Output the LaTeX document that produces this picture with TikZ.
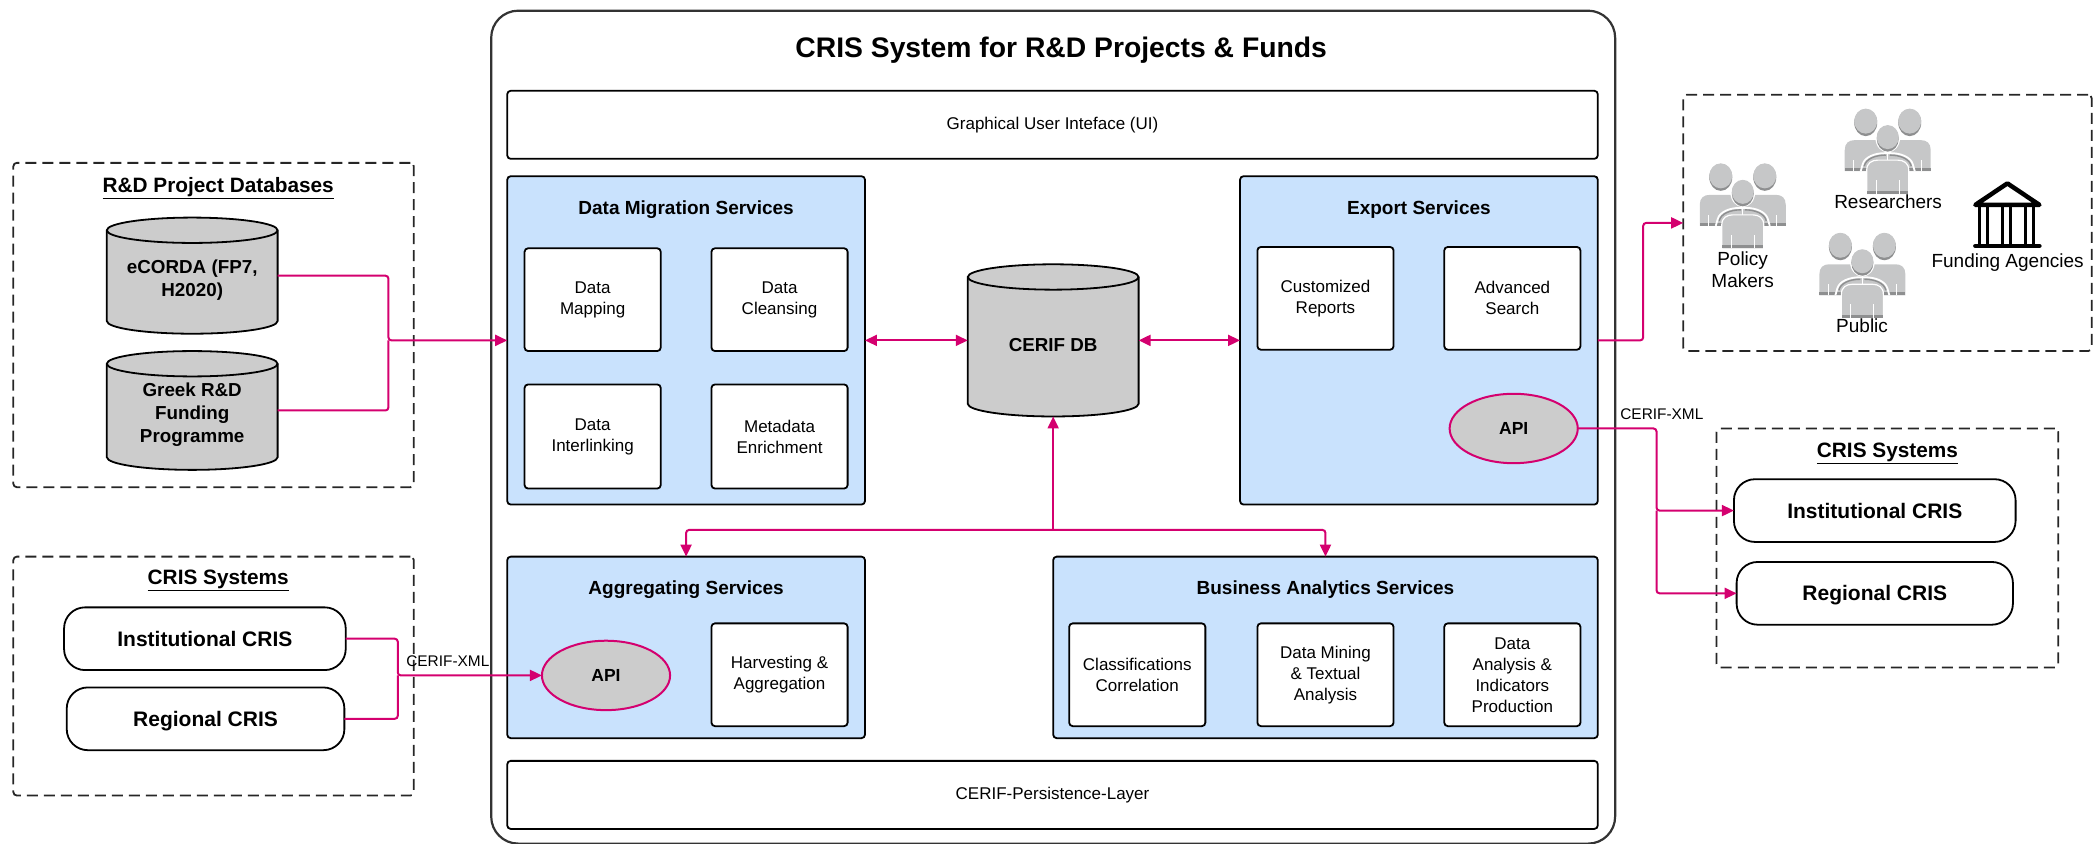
\documentclass[tikz,border=0pt]{standalone}
\usepackage{fontspec}
\setmainfont{Liberation Sans}
\usetikzlibrary{shapes.geometric,arrows.meta}
\definecolor{pinkline}{HTML}{D4006F}
\definecolor{bluefill}{HTML}{C9E2FD}
\definecolor{greyfill}{HTML}{CCCCCC}
\definecolor{plight}{HTML}{C6C7C8}
\definecolor{pdark}{HTML}{8E8F90}
\definecolor{outerline}{HTML}{333333}
\newcommand{\fs}[2]{\fontsize{#1}{#2}\selectfont}
\tikzset{
  x=1.3348pt,y=-1.3348pt,
  base/.style={inner sep=0pt,outer sep=0pt,align=center,line width=1.8pt,rounded corners=3.5pt},
  plain/.style={base,draw=black,fill=white,font=\fs{17}{21}},
  service/.style={base,draw=black,fill=bluefill},
  outerbox/.style={base,draw=outerline,fill=white,rounded corners=27pt,line width=2.2pt},
  group/.style={base,draw=black!85,dash pattern=on 11pt off 6pt},
  pill/.style={base,draw=black,fill=white,rounded corners=21pt,text height=15pt,text depth=0pt,font=\fs{21}{25}\bfseries},
  apinode/.style={ellipse,inner sep=0pt,outer sep=0pt,draw=pinkline,fill=greyfill,line width=2pt,font=\fs{17.5}{20}\bfseries},
  title/.style={inner sep=0pt,outer sep=0pt,align=center,font=\fs{19}{23}\bfseries},
  grouptitle/.style={inner sep=0pt,outer sep=0pt,font=\fs{20.8}{25}\bfseries},
  lab/.style={inner sep=0pt,outer sep=0pt,align=center,font=\fs{19}{22.5}},
  xml/.style={inner sep=0pt,outer sep=0pt,font=\fs{15.4}{19}},
  conn/.style={draw=pinkline,line width=2pt,rounded corners=3pt},
  tip/.style={-{Triangle[length=12pt,width=11pt]}},
  tips/.style={{Triangle[length=12pt,width=11pt]}-{Triangle[length=12pt,width=11pt]}},
  cyltext/.style={inner sep=0pt,outer sep=0pt,align=center,font=\fs{18.8}{23}\bfseries},
  cylanchor/.style={inner sep=0pt,outer sep=0pt},
}
% style, name, x1, y1, x2, y2, text
\newcommand{\bx}[7]{\node[#1,minimum width={(#5-#3)*1.3348pt},minimum height={(#6-#4)*1.3348pt}] (#2) at ({(#3+#5)/2},{(#4+#6)/2}) {#7};}
% name, x1, y1, x2, y2, text
\newcommand{\cyl}[6]{%
  \draw[line width=1.8pt,fill=greyfill] (#2,#3+9.5) arc[start angle=180,end angle=0,x radius={(#4-#2)/2*1.3348pt},y radius=9.5*1.3348pt] -- (#4,#5-9.5) arc[start angle=0,end angle=-180,x radius={(#4-#2)/2*1.3348pt},y radius=9.5*1.3348pt] -- cycle;
  \draw[line width=1.8pt] (#2,#3+9.5) arc[start angle=180,end angle=360,x radius={(#4-#2)/2*1.3348pt},y radius=9.5*1.3348pt];
  \node[cylanchor,minimum width={(#4-#2)*1.3348pt},minimum height={(#5-#3)*1.3348pt}] (#1) at ({(#2+#4)/2},{(#3+#5)/2}) {};
  \node[cyltext] (#1text) at ({(#2+#4)/2},{(#3+#5)/2+3.5}) {#6};}
\newcommand{\people}[2]{%
\begin{scope}[shift={(#1,#2)},x=1pt,y=-1pt]
  \fill[pdark] (21,14.5) ellipse[x radius=11.5pt,y radius=13.5pt];
  \fill[plight] (21,13) ellipse[x radius=11.5pt,y radius=12.5pt];
  \fill[pdark] (65,14.5) ellipse[x radius=11.5pt,y radius=13.5pt];
  \fill[plight] (65,13) ellipse[x radius=11.5pt,y radius=12.5pt];
  \fill[plight] (0,63) -- (0,42) .. controls (0,35) and (4,32) .. (10,32) -- (76,32) .. controls (82,32) and (86,35) .. (86,42) -- (86,63) -- cycle;
  \fill[pdark] (0,60) rectangle (86,63);
  \fill[white] (8.5,52) rectangle (9.7,63);
  \fill[white] (76.3,52) rectangle (77.5,63);
  \draw[white,line width=1.8pt] (16,63) -- (18,56) .. controls (20,49) and (30,45) .. (40,45) -- (46,45) .. controls (56,45) and (66,49) .. (68,56) -- (70,63);
  \draw[pdark,line width=1.4pt] (19.5,58) .. controls (21,51) and (30,47) .. (41,47);
  \draw[pdark,line width=1.4pt] (66.5,58) .. controls (65,51) and (56,47) .. (45,47);
  \draw[white,line width=1pt] (43,43) -- (43,52);
  \filldraw[fill=plight,draw=white,line width=1.2pt] (22,86) -- (22,62) .. controls (22,55) and (27,52) .. (33,52) -- (53,52) .. controls (59,52) and (64,55) .. (64,62) -- (64,86) -- cycle;
  \fill[pdark] (22.5,82.5) rectangle (63.5,85.5);
  \fill[white] (31,72) rectangle (32,85.5);
  \fill[white] (54,72) rectangle (55,85.5);
  \fill[white] (43,30) ellipse[x radius=12.3pt,y radius=14.3pt];
  \fill[pdark] (43,30.5) ellipse[x radius=11pt,y radius=13pt];
  \fill[plight] (43,29) ellipse[x radius=11pt,y radius=12pt];
\end{scope}}
\begin{document}
\begin{tikzpicture}
\useasboundingbox (0,0) rectangle (1568,631.6);
% main frame
\bx{outerbox}{frame}{368}{8}{1210}{632}{}
\node[inner sep=0pt,outer sep=0pt,font=\fs{28.3}{34}\bfseries] (maintitle) at (795,37.5) {CRIS System for R\&D Projects \& Funds};
\bx{plain}{ui}{380}{68}{1197}{119}{Graphical User Inteface (UI)}
\bx{plain}{persist}{380}{570}{1197}{621}{CERIF-Persistence-Layer}
% service panels
\bx{service}{dm}{380}{132}{648}{378}{}
\bx{service}{export}{929}{132}{1197}{378}{}
\bx{service}{agg}{380}{417}{648}{553}{}
\bx{service}{ba}{789}{417}{1197}{553}{}
\node[title] (dmt) at (514,157) {Data Migration Services};
\node[title] (ext) at (1063,157) {Export Services};
\node[title] (agt) at (514,441.5) {Aggregating Services};
\node[title] (bat) at (993,441.5) {Business Analytics Services};
\bx{plain}{mapping}{393}{186}{495}{263}{Data\\Mapping}
\bx{plain}{cleansing}{533}{186}{635}{263}{Data\\Cleansing}
\bx{plain}{interlink}{393}{288}{495}{366}{Data\\Interlinking}
\bx{plain}{enrich}{533}{288}{635}{366}{Metadata\\Enrichment}
\bx{plain}{reports}{942}{185}{1044}{262}{Customized\\Reports}
\bx{plain}{search}{1082}{185}{1184}{262}{Advanced\\Search}
\bx{plain}{harvest}{533}{467}{635}{544}{Harvesting \&\\Aggregation}
\bx{plain}{classif}{801}{467}{903}{544}{Classifications\\Correlation}
\bx{plain}{mining}{942}{467}{1044}{544}{Data Mining\\\& Textual\\Analysis}
\bx{plain}{analysis}{1082}{467}{1184}{544}{Data\\Analysis \&\\Indicators\\Production}
\bx{apinode}{apiout}{1086}{295}{1182}{347}{API}
\bx{apinode}{apiin}{406}{480}{502}{532}{API}
\cyl{cerif}{725}{198}{853}{312}{CERIF DB}
% left groups
\bx{group}{rdgroup}{10}{122}{310}{365}{}
\node[grouptitle] (rdt) at (163.5,141) {\underline{R\&D Project Databases}};
\cyl{ecorda}{80}{163}{208}{250}{eCORDA (FP7,\\H2020)}
\cyl{greek}{80}{263}{208}{352}{Greek R\&D\\Funding\\Programme}
\bx{group}{crisleft}{10}{417}{310}{596}{}
\node[grouptitle] (clt) at (163.5,435) {\underline{CRIS Systems}};
\bx{pill}{instl}{48}{455}{259}{502}{Institutional CRIS}
\bx{pill}{regl}{50}{515}{258}{562}{Regional CRIS}
% right groups
\bx{group}{users}{1261}{71}{1567}{263}{}
\people{1273.4}{122}
\people{1382}{81}
\people{1363}{174}
\node[lab] (policy) at (1305.5,202) {Policy\\Makers};
\node[lab] (researchers) at (1414.5,151) {Researchers};
\node[lab] (public) at (1395,244) {Public};
\node[lab] (funding) at (1504,197) {Funding Agencies};
\begin{scope}[shift={(1478,135.5)},x=1pt,y=-1pt]
  \draw[line width=4.5pt,line join=round,line cap=round] (34.5,2.5) -- (2.5,24) -- (66.5,24) -- cycle;
  \foreach \cx in {7,15,30,38,53,61} \draw[line width=3pt] (\cx,24) -- (\cx,65);
  \draw[line width=4.5pt,line cap=round] (2.5,65) -- (66.5,65);
\end{scope}
\bx{group}{crisright}{1286}{321}{1542}{500}{}
\node[grouptitle] (crt) at (1414,339.5) {\underline{CRIS Systems}};
\bx{pill}{instr}{1299}{359}{1510}{406}{Institutional CRIS}
\bx{pill}{regr}{1301}{421}{1508}{468}{Regional CRIS}
% connectors
\coordinate (jdb) at (291,255);
\draw[conn,tip] (ecorda.east) -| (jdb) -- (dm.west);
\draw[conn] (greek.east) -| (jdb);
\draw[conn,tips] (dm.east) -- (cerif.west);
\draw[conn,tips] (cerif.east) -- (export.west);
\coordinate (jusers) at (1231,255);
\draw[conn,tip] (export.east) -- (jusers) |- (users.west);
\coordinate (jservices) at (789,397);
\draw[conn,tip] (jservices) -- (cerif.south);
\draw[conn,tip] (jservices) -| (agg.north);
\draw[conn,tip] (jservices) -| (ba.north);
\coordinate (japi) at (1241,382.5);
\draw[conn,tip] (apiout.east) -| (japi) -- (instr.west);
\draw[conn,tip] (japi) |- (regr.west);
\coordinate (jcris) at (298,506);
\draw[conn,tip] (instl.east) -| (jcris) -- (apiin.west);
\draw[conn] (regl.east) -| (jcris);
\node[xml] (xmlr) at (1245,310.5) {CERIF-XML};
\node[xml] (xmll) at (335.5,495) {CERIF-XML};
\end{tikzpicture}
\end{document}
